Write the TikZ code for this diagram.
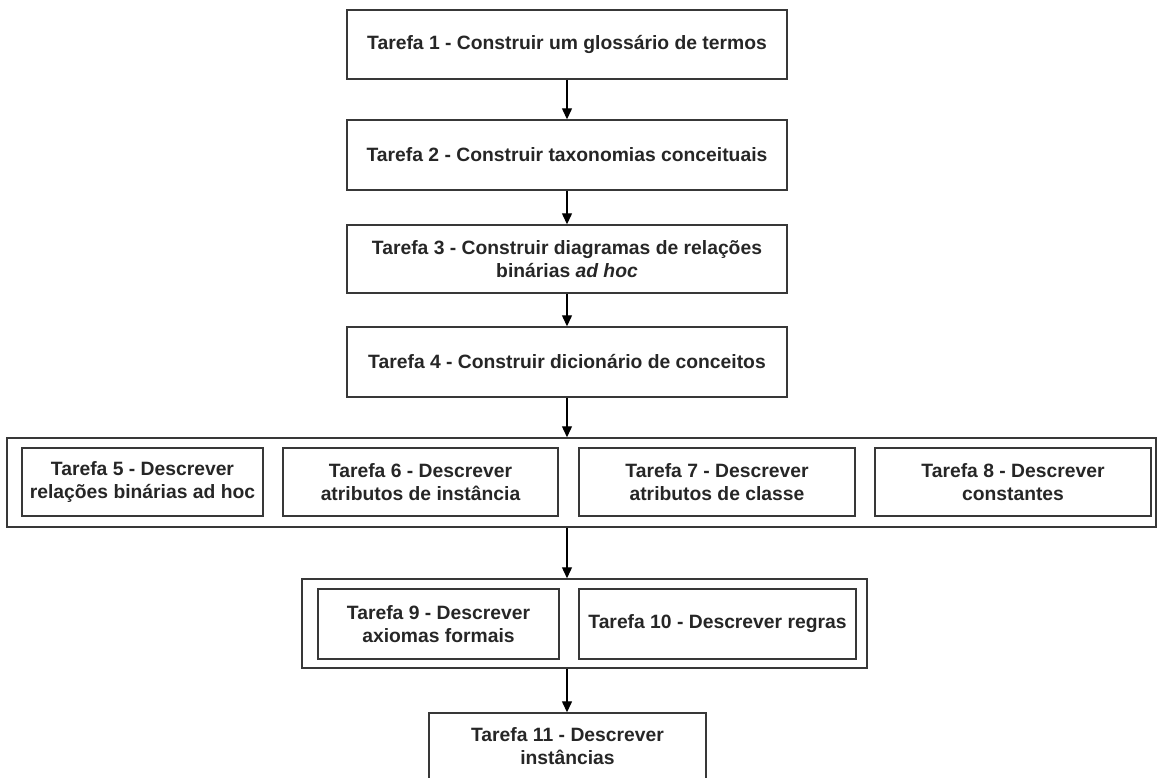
\documentclass[tikz,border=0pt]{standalone}
\usepackage{fontspec}
\setmainfont{Liberation Sans}
\usetikzlibrary{arrows.meta}
\definecolor{linegray}{HTML}{383838}
\definecolor{inkgray}{HTML}{262626}

\begin{document}
\begin{tikzpicture}[x=1pt,y=-1pt,
  task/.style={draw=linegray, line width=1.4pt, inner sep=0pt, align=center,
    text=inkgray, font=\bfseries\fontsize{19.3}{23}\selectfont},
  group/.style={draw=linegray, line width=1.5pt, inner sep=0pt},
  flow/.style={draw=black, line width=1.3pt,
    -{Triangle[length=11pt,width=10pt]}}]
\useasboundingbox (0,0) rectangle (1157,778);

% sequential tasks
\node[task, minimum width=440pt, minimum height=69pt] (t1) at (567,44.5)
  {Tarefa 1 - Construir um glossário de termos};
\node[task, minimum width=440pt, minimum height=70pt] (t2) at (567,155)
  {Tarefa 2 - Construir taxonomias conceituais};
\node[task, minimum width=440pt, minimum height=68pt] (t3) at (567,259)
  {Tarefa 3 - Construir diagramas de relações\\binárias \textit{ad hoc}};
\node[task, minimum width=440pt, minimum height=70pt] (t4) at (567,362)
  {Tarefa 4 - Construir dicionário de conceitos};

% first parallel group
\node[group, minimum width=1149pt, minimum height=89pt] (g1) at (581.5,482.5) {};
\node[task, minimum width=241pt, minimum height=68pt] (t5) at (142.5,482)
  {Tarefa 5 - Descrever\\relações binárias ad hoc};
\node[task, minimum width=275pt, minimum height=68pt] (t6) at (420.5,482)
  {Tarefa 6 - Descrever\\atributos de instância};
\node[task, minimum width=276pt, minimum height=68pt] (t7) at (717,482)
  {Tarefa 7 - Descrever\\atributos de classe};
\node[task, minimum width=276pt, minimum height=68pt] (t8) at (1013,482)
  {Tarefa 8 - Descrever\\constantes};

% second parallel group
\node[group, minimum width=565pt, minimum height=89pt] (g2) at (584.5,623.5) {};
\node[task, minimum width=241pt, minimum height=70pt] (t9) at (438.5,624)
  {Tarefa 9 - Descrever\\axiomas formais};
\node[task, minimum width=277pt, minimum height=70pt] (t10) at (717.5,624)
  {Tarefa 10 - Descrever regras};

% final task
\node[task, minimum width=277pt, minimum height=66pt] (t11) at (567.5,746)
  {Tarefa 11 - Descrever\\instâncias};

% connectors
\draw[flow] (t1.south) -- (t2.north);
\draw[flow] (t2.south) -- (t3.north);
\draw[flow] (t3.south) -- (t4.north);
\draw[flow] (t4.south) -- (t4.south |- g1.north);
\draw[flow] (g1.south -| t4.south) -- (g2.north -| t4.south);
\draw[flow] (g2.south -| t4.south) -- (t11.north -| t4.south);
\end{tikzpicture}
\end{document}
